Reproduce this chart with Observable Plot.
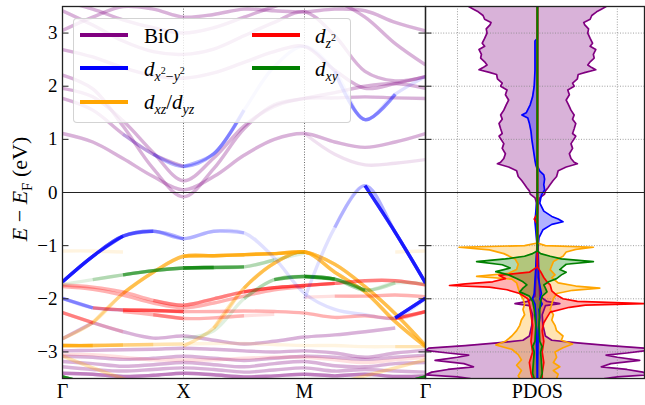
<!DOCTYPE html>
<html><head><meta charset="utf-8">
<script src="https://cdn.jsdelivr.net/npm/d3@7"></script>
<script src="https://cdn.jsdelivr.net/npm/@observablehq/plot@0.6"></script>
<style>
body{margin:0;background:#fff;}
#wrap{position:relative;width:645px;height:405px;font-family:"Liberation Serif","DejaVu Serif",serif;overflow:hidden;}
#bands{position:absolute;left:0;top:0;}
#pdos{position:absolute;left:425px;top:0;}
#legbox{position:absolute;left:73px;top:18px;width:278px;height:105px;background:rgba(255,255,255,0.8);border:1px solid rgba(200,200,200,0.8);border-radius:4px;box-sizing:border-box;}
.sw{position:absolute;width:48px;height:4px;}
.lt{position:absolute;font-size:21px;line-height:21px;white-space:nowrap;color:#000;}
.sb{font-size:14px;position:relative;top:5px;}
.sp{font-size:10px;position:relative;top:-7px;}
</style></head>
<body><div id="wrap"><div id="bands"></div><div id="pdos"></div><div id="legbox"></div><div id="legend"></div></div>
<script>
// ---------- k path and ticks ----------
const kNodes = [0, 0.25, 0.5, 0.75, 1, 1.25, 1.5, 1.75, 2, 2.25, 2.5, 2.75, 3];
const kTicks = [0, 1, 2, 3];
const kLabels = ["Γ", "X", "M", "Γ"];
const eTicks = [-3, -2, -1, 0, 1, 2, 3];
const pdosGrid = [-5, 5];

// ---------- band energies (eV) at kNodes, with orbital weights ----------
const bioU1 = [1.11, 0.95, 0.64, 0.30, 0.05, 0.30, 0.70, 1.00, 1.11, 0.95, 0.85, 0.95, 1.11];
const bioU2 = [1.77, 1.55, 1.10, 0.72, 0.49, null, null, null, null, null, null, null, null];
const bioU3 = [1.96, 1.80, 1.35, 0.75, 0.22, 0.65, 1.25, 1.62, 1.77, 1.78, 1.80, 1.78, 1.77];
const bioU4 = [2.21, 1.95, 1.25, 0.45, -0.08, 0.45, 1.20, 1.65, 1.77, 1.88, 2.00, 2.05, 1.96];
const bioU5 = [null, null, null, null, null, null, null, null, 1.11, 0.72, 0.52, 0.55, 0.62];
const bioU6 = [2.69, 2.55, 2.35, 2.20, 2.15, 2.25, 2.45, 2.65, 2.75, 2.30, 1.96, 2.05, 2.18];
const bioU7 = [3.42, 3.15, 2.85, 2.65, 2.60, 2.70, 2.95, 3.20, 3.40, 2.95, 2.28, 2.10, 2.18];
const bioU8 = [3.05, 3.30, 3.50, 3.45, 3.30, 3.35, 3.45, 3.42, 3.40, 3.45, 3.42, 3.20, 3.04];
const bioU9 = [3.60, 3.45, 3.25, 3.10, 3.00, 3.10, 3.30, 3.50, 3.65, 3.60, 3.30, 2.80, 2.40];
const bioL1 = [null, -2.45, -2.62, -2.74, -2.70, -2.78, -2.85, -2.80, -2.72, -2.68, -2.62, -2.55, null];
const bioL2 = [-2.75, -2.45, null, null, null, null, null, null, null, null, null, null, null];
const bioD1 = [-2.98, -2.97, -2.96, -2.95, -2.93, -2.95, -2.98, -3.00, -2.98, -3.02, -3.10, -3.02, -2.97];
const bioD2 = [-3.08, -3.10, -3.14, -3.12, -3.08, -3.12, -3.16, -3.12, -3.08, -3.10, -3.14, -3.10, -3.06];
const bioD3 = [-3.18, -3.22, -3.27, -3.24, -3.20, -3.24, -3.28, -3.22, -3.18, -3.26, -3.28, -3.22, -3.20];
const bioD4 = [-3.28, -3.33, -3.36, -3.33, -3.30, -3.33, -3.38, -3.34, -3.30, -3.36, -3.33, -3.36, -3.38];
const bioD5 = [-3.40, -3.42, -3.46, -3.44, -3.40, -3.43, -3.47, -3.45, -3.42, -3.45, -3.42, -3.46, -3.45];
const dx2U  = [null, null, 1.10, 0.72, 0.49, 0.73, 1.55, 2.37, 2.75, 2.28, 1.37, 1.85, 2.18];
const dx2UW = [0, 0, 0.12, 0.3, 0.55, 0.75, 0.55, 0.2, 0.2, 0.5, 0.9, 0.5, 0.12];
const dx2L1  = [-1.68, -1.20, -0.82, -0.73, -0.87, -0.73, -0.76, -1.23, -1.90, -2.20, -2.30, -2.36, -1.99];
const dx2L1W = [0.9, 0.9, 0.9, 0.8, 0.6, 0.45, 0.3, 0.15, 0.12, 0.12, 0.15, 0.9, 0.9];
const dx2L2  = [null, null, null, null, null, null, null, null, -2.00, -0.66, 0.13, -0.75, -1.70];
const dx2L2W = [0, 0, 0, 0, 0, 0, 0, 0, 0.12, 0.3, 0.9, 0.9, 0.9];
const dx2L3  = [-1.99, -2.17, -2.21, null, null, null, null, null, null, null, null, null, null];
const dx2L3W = [0.9, 0.5, 0.15, 0, 0, 0, 0, 0, 0, 0, 0, 0, 0];
const dz2L1  = [-1.74, -1.78, -1.87, -2.03, -2.12, -2.00, -1.87, -1.79, -1.75, -1.71, -1.66, -1.66, -1.74];
const dz2L1W = [0.4, 0.4, 0.45, 0.5, 0.55, 0.6, 0.7, 0.75, 0.85, 0.75, 0.6, 0.5, 0.5];
const dz2L2  = [-1.77, -1.82, -1.93, -2.08, -2.17, -2.08, -1.95, -1.83, -1.78, null, null, null, null];
const dz2L3  = [null, -2.17, -2.21, -2.22, -2.24, -2.24, -2.23, -2.24, -2.27, -2.35, -2.32, -2.37, -2.24];
const dz2L3W = [0, 0.55, 0.7, 0.7, 0.7, 0.45, 0.35, 0.3, 0.3, 0.35, 0.4, 0.8, 0.95];
const dz2L4  = [null, null, -2.24, -2.30, -2.37, -2.36, -2.32, -2.29, null, null, null, null, null];
const dz2L4W = [0, 0, 0.4, 0.55, 0.55, 0.45, 0.3, 0.2, 0, 0, 0, 0, 0];
const dz2L5  = [-2.26, -2.45, -2.62, null, null, null, null, null, null, null, null, null, null];
const dz2L5W = [0.9, 0.5, 0.2, 0, 0, 0, 0, 0, 0, 0, 0, 0, 0];
const dz2L6  = [null, null, null, null, null, null, null, null, -1.97, -1.95, -1.95, -1.93, -1.96];
const dz2L6W = [0, 0, 0, 0, 0, 0, 0, 0, 0.2, 0.45, 0.45, 0.5, 0.45];
const dz2L7  = [-3.05, -3.05, -3.10, -3.15, -3.15, -3.15, -3.12, -3.10, -3.10, -3.15, -3.20, -3.15, -3.10];
const dxzL1  = [-2.75, -2.45, -1.90, -1.50, -1.20, -1.19, -1.17, -1.15, -1.12, -1.35, -1.77, -2.28, -2.88];
const dxzL1W = [0.3, 0.6, 0.8, 0.85, 0.9, 0.9, 0.9, 0.9, 0.9, 0.85, 0.85, 0.85, 0.85];
const dxzL2  = [null, null, null, null, -2.89, -2.55, -1.80, -1.33, -1.12, -1.50, -1.87, -2.43, -2.90];
const dxzL2W = [0, 0, 0, 0, 0.3, 0.5, 0.8, 0.85, 0.9, 0.85, 0.85, 0.85, 0.85];
const dxzL3  = [-2.88, -2.88, -2.87, -2.86, -2.85, -2.84, -2.84, -2.86, -2.88, -2.88, -2.90, -2.90, -2.90];
const dxzL3W = [0.95, 0.9, 0.85, 0.6, 0.45, 0.2, 0.15, 0.15, 0.15, 0.15, 0.2, 0.3, 0.5];
const dxzL4  = [-1.10, -1.10, -1.12, null, null, null, null, null, null, null, null, -1.12, -1.10];
const dxzL5  = [-3.08, -3.30, -3.50, -3.70, null, null, null, null, null, null, null, null, null];
const dxzL6  = [null, null, null, null, null, null, null, null, null, -3.60, -3.45, -3.30, -3.15];
const dxyL1  = [-1.73, -1.64, -1.55, -1.47, -1.42, -1.41, -1.40, -1.27, -1.14, null, null, null, null];
const dxyL1W = [0.15, 0.35, 0.7, 0.85, 0.9, 0.9, 0.85, 0.45, 0.12, 0, 0, 0, 0];
const dxyL2  = [null, null, null, null, -2.75, -2.60, -2.00, -1.64, -1.58, -1.63, -1.84, -1.70, -1.72];
const dxyL2W = [0, 0, 0, 0, 0.12, 0.2, 0.45, 0.85, 0.95, 0.9, 0.85, 0.3, 0.12];
const dxyL3  = [-3.47, -3.62, null, null, null, null, null, null, null, null, null, null, null];
const dxyL4  = [null, null, null, null, null, null, null, null, null, null, null, -3.62, -3.47];

// ---------- PDOS (arb. units); "Up" drawn to the right, "Dn" to the left ----------
const pdosE_BiO = [3.5,3.45,3.4,3.33,3.26,3.2,3.16,3.08,3.0,2.9,2.81,2.75,2.69,2.6,2.53,2.46,2.4,2.35,2.31,2.26,2.22,2.14,2.06,2.0,1.93,1.84,1.74,1.65,1.55,1.46,1.38,1.3,1.2,1.11,1.06,1.01,0.92,0.83,0.73,0.64,0.57,0.54,0.48,0.41,0.3,0.22,0.15,0.09,0.03,-0.03,-0.1,-0.2,-0.4,-1.0,-1.6,-1.95,-2.05,-2.09,-2.13,-2.3,-2.5,-2.7,-2.78,-2.83,-2.88,-2.93,-2.97,-3.02,-3.06,-3.1,-3.16,-3.22,-3.28,-3.33,-3.38,-3.43,-3.47,-3.5];
const pdosV_BiO = [4.3,4.0,3.7,3.4,3.3,2.9,2.95,3.2,3.15,3.3,3.45,3.3,3.65,3.5,3.55,3.3,3.15,3.4,3.65,3.0,2.55,2.5,2.2,2.3,1.9,2.0,1.8,1.95,2.1,2.3,2.2,2.4,2.3,2.2,2.4,2.3,2.1,2.2,2.0,2.1,2.3,2.5,1.8,1.3,1.2,0.97,0.8,0.66,0.5,0.45,0.15,0.05,0.02,0.03,0.1,0.15,0.6,1.4,0.5,0.3,0.35,0.5,0.9,2.5,4.5,6.8,7.0,5.6,4.3,5.0,6.4,4.6,4.0,5.6,6.6,7.0,5.0,4.2];
const pdosE_dx2Up = [3.5,0.5,0.4,0.33,0.25,0.15,0.05,-0.05,-0.2,-0.35,-0.45,-0.5,-0.55,-0.6,-0.7,-0.85,-1.0,-1.6,-1.9,-2.0,-2.1,-2.2,-2.35,-2.6,-3.5];
const pdosV_dx2Up = [0,0,0.15,0.4,0.45,0.4,0.45,0.25,0.15,0.4,0.9,1.3,1.6,0.9,0.35,0.1,0.05,0.05,0.25,0.15,0.3,0.1,0.15,0.05,0];
const pdosE_dx2Dn = [3.5,2.9,2.85,2.6,2.3,2.0,1.8,1.65,1.5,1.46,1.4,1.3,1.15,1.0,0.8,0.6,0.52,0.45,0.0,-0.55,-1.0,-1.9,-2.0,-2.1,-2.3,-3.5];
const pdosV_dx2Dn = [0,0,0.15,0.15,0.15,0.2,0.3,0.45,0.7,0.97,0.6,0.5,0.4,0.35,0.25,0.15,0.1,0.02,0.0,0.15,0.02,0.2,0.3,0.15,0.1,0];
const pdosE_dxzUp = [3.5,-0.95,-1.0,-1.03,-1.07,-1.12,-1.2,-1.3,-1.45,-1.55,-1.6,-1.7,-1.76,-1.8,-1.84,-1.9,-2.0,-2.1,-2.2,-2.3,-2.4,-2.5,-2.6,-2.7,-2.78,-2.85,-2.92,-3.0,-3.1,-3.2,-3.28,-3.35,-3.42,-3.5];
const pdosV_dxzUp = [0,0,0.5,3.5,2.4,1.8,1.6,1.0,0.8,1.1,0.9,1.3,2.4,3.9,2.2,1.2,1.0,0.9,0.8,1.0,0.9,1.1,1.2,1.6,1.5,2.2,1.6,1.1,1.2,1.0,1.4,1.0,1.3,1.2];
const pdosE_dxzDn = [3.5,-0.95,-1.0,-1.03,-1.08,-1.15,-1.25,-1.35,-1.45,-1.52,-1.58,-1.63,-1.7,-1.8,-1.9,-2.0,-2.1,-2.2,-2.3,-2.4,-2.5,-2.6,-2.7,-2.8,-2.87,-2.95,-3.05,-3.15,-3.25,-3.35,-3.45,-3.5];
const pdosV_dxzDn = [0,0,0.8,4.9,3.0,2.1,1.4,1.2,1.3,1.8,3.8,1.6,1.3,1.2,1.1,0.9,0.8,0.9,0.8,1.0,1.1,1.3,1.6,2.0,2.6,1.6,1.2,1.0,1.3,1.0,1.2,1.1];
const pdosE_dz2Up = [3.5,-1.4,-1.49,-1.6,-1.68,-1.74,-1.85,-1.93,-2.0,-2.05,-2.09,-2.12,-2.16,-2.25,-2.35,-2.45,-2.6,-2.8,-3.0,-3.2,-3.4,-3.5];
const pdosV_dz2Up = [0,0,0.2,0.4,0.6,0.8,0.9,1.2,1.6,2.5,6.7,3.0,2.0,0.8,0.6,0.4,0.3,0.4,0.3,0.4,0.3,0.3];
const pdosE_dz2Dn = [3.5,-0.4,-0.5,-0.6,-1.4,-1.5,-1.56,-1.62,-1.68,-1.72,-1.75,-1.78,-1.83,-1.9,-2.0,-2.1,-2.3,-2.5,-2.8,-3.0,-3.2,-3.4,-3.5];
const pdosV_dz2Dn = [0,0,0.2,0,0,0.5,2.4,2.0,2.8,4.5,5.5,3.0,1.9,1.1,0.6,0.5,0.4,0.3,0.4,0.3,0.5,0.4,0.3];
const pdosE_dxyUp = [3.5,-1.1,-1.15,-1.2,-1.25,-1.3,-1.35,-1.4,-1.45,-1.5,-1.55,-1.62,-1.68,-1.74,-1.8,-1.87,-1.95,-2.05,-2.2,-2.5,-2.8,-2.9,-3.0,-3.2,-3.4,-3.5];
const pdosV_dxyUp = [0,0,0.2,0.8,1.5,3.5,1.8,1.6,1.4,1.8,1.5,1.2,0.7,0.4,0.5,0.6,0.3,0.2,0.15,0.1,0.15,0.3,0.2,0.25,0.3,0.2];
const pdosE_dxyDn = [3.5,-1.1,-1.15,-1.2,-1.25,-1.3,-1.36,-1.42,-1.49,-1.55,-1.62,-1.68,-1.74,-1.8,-1.87,-1.95,-2.05,-2.2,-2.5,-2.8,-2.9,-3.0,-3.2,-3.4,-3.5];
const pdosV_dxyDn = [0,0,0.3,0.8,2.0,3.8,2.2,1.7,2.6,1.8,1.3,0.9,0.66,0.9,1.1,0.5,0.3,0.2,0.1,0.15,0.3,0.2,0.25,0.3,0.2];

// ---------- styling ----------
const orbColor = {BiO: "#800080", dx2: "#0000ff", dxz: "#ffa500", dz2: "#ff0000", dxy: "#008000"};
const levels = [0.12, 0.3, 0.5, 0.7, 0.9];
const alphas = levels.map((t, j) => j === 0 ? t : 1 - (1 - t) / (1 - levels[j - 1]));
const serif = "'Liberation Serif', 'DejaVu Serif', serif";

const bandTable = [
  [bioU1, 0.35, "BiO"], [bioU2, 0.35, "BiO"], [bioU3, 0.3, "BiO"], [bioU4, 0.3, "BiO"],
  [bioU5, 0.25, "BiO"], [bioU6, 0.35, "BiO"], [bioU7, 0.3, "BiO"], [bioU8, 0.35, "BiO"], [bioU9, 0.3, "BiO"],
  [bioL1, 0.3, "BiO"], [bioL2, 0.35, "BiO"], [bioD1, 0.4, "BiO"], [bioD2, 0.35, "BiO"],
  [bioD3, 0.4, "BiO"], [bioD4, 0.45, "BiO"], [bioD5, 0.5, "BiO"],
  [dxzL1, dxzL1W, "dxz"], [dxzL2, dxzL2W, "dxz"], [dxzL3, dxzL3W, "dxz"], [dxzL4, 0.12, "dxz"],
  [dxzL5, 0.4, "dxz"], [dxzL6, 0.4, "dxz"],
  [dz2L1, dz2L1W, "dz2"], [dz2L2, 0.35, "dz2"], [dz2L3, dz2L3W, "dz2"], [dz2L4, dz2L4W, "dz2"],
  [dz2L5, dz2L5W, "dz2"], [dz2L6, dz2L6W, "dz2"], [dz2L7, 0.2, "dz2"],
  [dxyL1, dxyL1W, "dxy"], [dxyL2, dxyL2W, "dxy"], [dxyL3, 0.9, "dxy"], [dxyL4, 0.9, "dxy"],
  [dx2U, dx2UW, "dx2"], [dx2L1, dx2L1W, "dx2"], [dx2L2, dx2L2W, "dx2"], [dx2L3, dx2L3W, "dx2"]
];

function bandMarks(E, W, orb) {
  const ws = Array.isArray(W) ? W : E.map(() => W);
  const out = [];
  levels.forEach((t, j) => {
    const rows = kNodes.map((k, i) => ({k, E: (E[i] != null && ws[i] >= t - 1e-9) ? E[i] : NaN}));
    let ok = false;
    for (let i = 1; i < rows.length; i++) if (!isNaN(rows[i].E) && !isNaN(rows[i - 1].E)) ok = true;
    if (!ok) return;
    out.push(Plot.line(rows, {x: "k", y: "E", stroke: orbColor[orb], strokeOpacity: alphas[j],
      strokeWidth: 3.4, curve: "catmull-rom", strokeLinecap: "butt", clip: true}));
  });
  return out;
}

const fmt = d => d < 0 ? "\u2212" + (-d) : String(d);
const inner = 426 - 62 - 1;

const bandPlot = Plot.plot({
  width: 426, height: 405, marginLeft: 62, marginRight: 1, marginTop: 6, marginBottom: 27,
  x: {domain: [0, 3]}, y: {domain: [-3.5, 3.5]},
  style: {fontFamily: serif, fontSize: "19px", color: "#000", background: "transparent", overflow: "visible"},
  marks: [
    Plot.ruleX([1, 2], {stroke: "#444", strokeWidth: 0.8, strokeDasharray: "1,1.6"}),
    ...bandTable.flatMap(([E, W, orb]) => bandMarks(E, W, orb)),
    Plot.ruleY([0], {stroke: "#222", strokeWidth: 1.2}),
    Plot.tickY(eTicks, {y: d => d, insetRight: inner - 6.5, stroke: "#222", strokeWidth: 1}),
    Plot.tickY(eTicks, {y: d => d, insetLeft: inner - 6.5, stroke: "#222", strokeWidth: 1}),
    Plot.axisY({ticks: eTicks, tickSize: 0, tickPadding: 5, tickFormat: fmt, label: null, fontSize: 19, fontFamily: serif}),
    Plot.axisX({ticks: kTicks, tickSize: 0, tickPadding: 5, tickFormat: d => kLabels[d], label: null, fontSize: 20, fontFamily: serif}),
    Plot.frame({stroke: "#222", strokeWidth: 1.3})
  ]
});
document.getElementById("bands").appendChild(bandPlot);

const yl = d3.select(bandPlot).append("text")
  .attr("transform", "translate(27,189) rotate(-90)")
  .attr("text-anchor", "middle")
  .style("font-family", serif).style("font-size", "22px").attr("fill", "#000");
yl.append("tspan").attr("font-style", "italic").text("E");
yl.append("tspan").text(" \u2212 ");
yl.append("tspan").attr("font-style", "italic").text("E");
yl.append("tspan").attr("font-size", "15px").attr("dy", "5").text("F");
yl.append("tspan").attr("dy", "-5").text(" (eV)");

const pdosSeries = [
  ["BiO", pdosE_BiO, pdosV_BiO, 1], ["BiO", pdosE_BiO, pdosV_BiO, -1],
  ["dx2", pdosE_dx2Up, pdosV_dx2Up, 1], ["dx2", pdosE_dx2Dn, pdosV_dx2Dn, -1],
  ["dxz", pdosE_dxzUp, pdosV_dxzUp, 1], ["dxz", pdosE_dxzDn, pdosV_dxzDn, -1],
  ["dz2", pdosE_dz2Up, pdosV_dz2Up, 1], ["dz2", pdosE_dz2Dn, pdosV_dz2Dn, -1],
  ["dxy", pdosE_dxyUp, pdosV_dxyUp, 1], ["dxy", pdosE_dxyDn, pdosV_dxyDn, -1]
].map(([orb, E, V, s]) => ({orb, rows: E.map((e, i) => ({E: e, v: s * V[i]}))}));

const pInner = 220 - 0 - 1;
const pdosPlot = Plot.plot({
  width: 220, height: 405, marginLeft: 0, marginRight: 1, marginTop: 6, marginBottom: 27,
  x: {domain: [-7, 6.7]}, y: {domain: [-3.5, 3.5], axis: null},
  style: {fontFamily: serif, fontSize: "20px", color: "#000", background: "transparent", overflow: "visible"},
  marks: [
    ...pdosSeries.map(s => Plot.areaX(s.rows, {y: "E", x: "v", fill: orbColor[s.orb], fillOpacity: 0.3, clip: true})),
    Plot.ruleY(eTicks.filter(d => d !== 0), {stroke: "#888", strokeWidth: 0.8, strokeDasharray: "1,1.6"}),
    Plot.ruleX(pdosGrid, {stroke: "#888", strokeWidth: 0.8, strokeDasharray: "1,1.6"}),
    ...pdosSeries.map(s => Plot.lineX(s.rows, {y: "E", x: "v", stroke: orbColor[s.orb], strokeWidth: 1.7, clip: true})),
    Plot.ruleY([0], {stroke: "#222", strokeWidth: 1.2}),
    Plot.tickY(eTicks, {y: d => d, insetRight: pInner - 6.5, stroke: "#222", strokeWidth: 1}),
    Plot.axisX({ticks: [0], tickSize: 0, tickPadding: 5, tickFormat: () => "PDOS", label: null, fontSize: 20, fontFamily: serif}),
    Plot.frame({stroke: "#222", strokeWidth: 1.3})
  ]
});
document.getElementById("pdos").appendChild(pdosPlot);

const legendItems = [
  {orb: "BiO", col: 0, row: 0, html: "BiO"},
  {orb: "dx2", col: 0, row: 1, html: '<i>d</i><span class="sb"><i>x</i><span class="sp">2</span>\u2212<i>y</i><span class="sp">2</span></span>'},
  {orb: "dxz", col: 0, row: 2, html: '<i>d</i><span class="sb"><i>xz</i></span>/<i>d</i><span class="sb"><i>yz</i></span>'},
  {orb: "dz2", col: 1, row: 0, html: '<i>d</i><span class="sb"><i>z</i><span class="sp">2</span></span>'},
  {orb: "dxy", col: 1, row: 1, html: '<i>d</i><span class="sb"><i>xy</i></span>'}
];
const leg = document.getElementById("legend");
legendItems.forEach(it => {
  const cy = 35 + it.row * 33.3;
  const sx = it.col === 0 ? 80 : 252;
  const tx = it.col === 0 ? 144 : 315;
  const sw = document.createElement("div");
  sw.className = "sw";
  sw.style.left = sx + "px"; sw.style.top = (cy - 2) + "px"; sw.style.background = orbColor[it.orb];
  leg.appendChild(sw);
  const lt = document.createElement("div");
  lt.className = "lt";
  lt.style.left = tx + "px"; lt.style.top = (cy - 9.5) + "px";
  lt.innerHTML = it.html;
  leg.appendChild(lt);
});
</script>
</body></html>
